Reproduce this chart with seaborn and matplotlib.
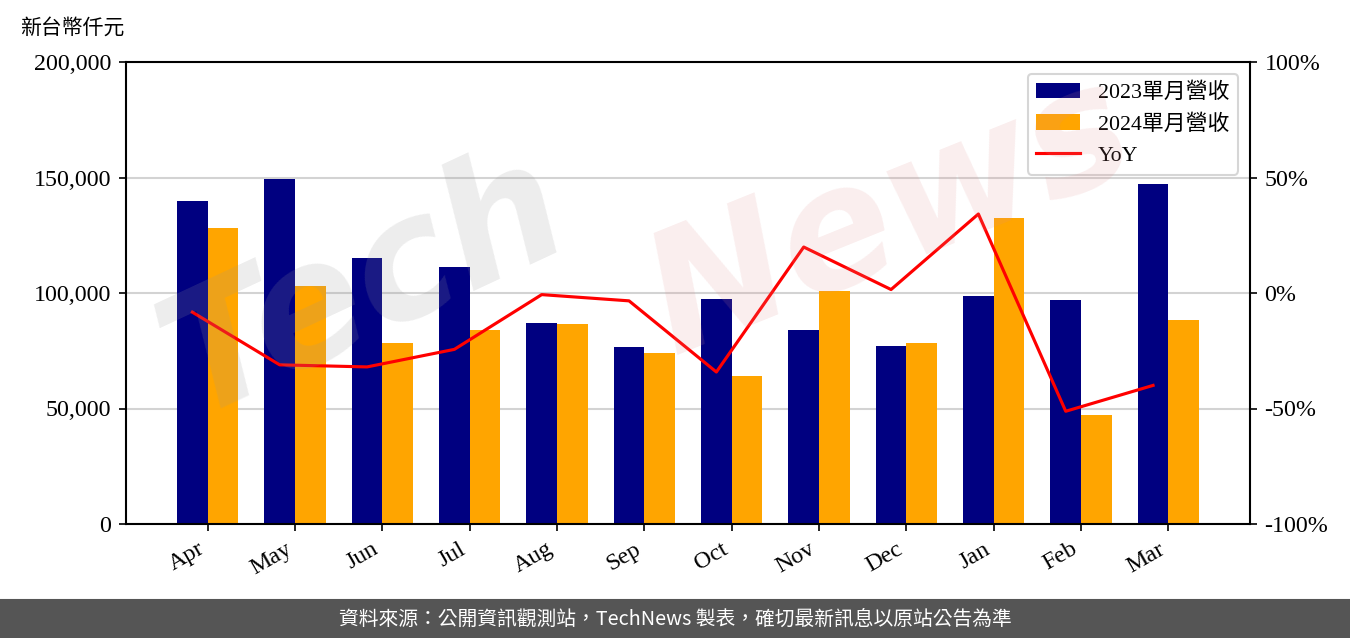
import numpy as np
import pandas as pd
import matplotlib
matplotlib.use('Agg')
import matplotlib.pyplot as plt
from matplotlib.patches import Rectangle
from matplotlib.ticker import FuncFormatter
import seaborn as sns

# 資料 (單位: 新台幣仟元)
months = ['Apr', 'May', 'Jun', 'Jul', 'Aug', 'Sep', 'Oct', 'Nov', 'Dec', 'Jan', 'Feb', 'Mar']
rev_2023 = [139800, 149400, 115200, 111300, 87000, 76600, 97400, 84000, 77100, 98700, 97000, 147200]
rev_2024 = [128100, 103000, 78400, 84000, 86600, 74000, 64100, 100900, 78400, 132500, 47200, 88300]
yoy = [-8.3, -31.1, -32.0, -24.4, -0.7, -3.4, -34.2, 19.9, 1.5, 34.2, -51.2, -40.0]
series_names = ['2023單月營收', '2024單月營收']

plt.rcParams['font.family'] = ['Liberation Serif', 'Noto Sans CJK TC']
plt.rcParams['font.size'] = 11.5

df = pd.DataFrame({
    'month': months * 2,
    'value': rev_2023 + rev_2024,
    'series': [series_names[0]] * 12 + [series_names[1]] * 12,
})

fig = plt.figure(figsize=(9, 638 / 150), dpi=150)
fig.subplots_adjust(left=126 / 1350, right=1250 / 1350, top=1 - 62 / 638, bottom=1 - 524 / 638)
ax = fig.add_subplot(111)

sns.barplot(data=df, x='month', y='value', hue='series', palette=['navy', 'orange'],
            width=0.7, saturation=1, ax=ax)
h1, l1 = ax.get_legend_handles_labels()
ax.get_legend().remove()

ax.set_ylim(0, 200000)
ax.set_yticks([0, 50000, 100000, 150000, 200000])
ax.yaxis.set_major_formatter(FuncFormatter(lambda v, p: f'{int(v):,}'))
ax.set_xlabel('')
ax.set_ylabel('')
ax.yaxis.grid(True, color='#d3d3d3', lw=1)
ax.set_axisbelow(True)
plt.setp(ax.get_xticklabels(), rotation=30, ha='right', rotation_mode='default')
for sp in ax.spines.values():
    sp.set_linewidth(1.0)

# YoY 折線 (右軸)
ax2 = ax.twinx()
xpos = np.arange(len(months)) - 0.175
ax2.plot(xpos, yoy, color='red', lw=1.5, label='YoY')
ax2.set_ylim(-100, 100)
ax2.set_yticks([-100, -50, 0, 50, 100])
ax2.yaxis.set_major_formatter(FuncFormatter(lambda v, p: f'{int(v)}%'))
h2, l2 = ax2.get_legend_handles_labels()
ax2.legend(h1 + h2, l1 + l2, loc='upper right', fontsize=10.5, borderaxespad=0.55)

fig.text(20 / 1350, 1 - 28 / 638, '新台幣仟元', fontsize=10, va='center', ha='left',
         family=['Noto Sans CJK TC'])

# 浮水印
fig.text(0.27, 0.55, 'Tech', fontsize=80, rotation=25, color='#999999', alpha=0.18,
         ha='center', va='center', fontstyle='italic', fontweight='bold', family='DejaVu Sans')
fig.text(0.66, 0.66, 'News', fontsize=80, rotation=22, color='#e08a8a', alpha=0.15,
         ha='center', va='center', fontstyle='italic', fontweight='bold', family='DejaVu Sans')

# 底部說明列
fig.patches.append(Rectangle((0, 0), 1, 38 / 638, transform=fig.transFigure,
                             color='#555555', zorder=0))
fig.text(0.5, 19 / 638, '資料來源：公開資訊觀測站，TechNews 製表，確切最新訊息以原站公告為準',
         color='white', fontsize=9.5, ha='center', va='center', family=['Noto Sans CJK TC'])

fig.savefig('out.png', dpi=150)
